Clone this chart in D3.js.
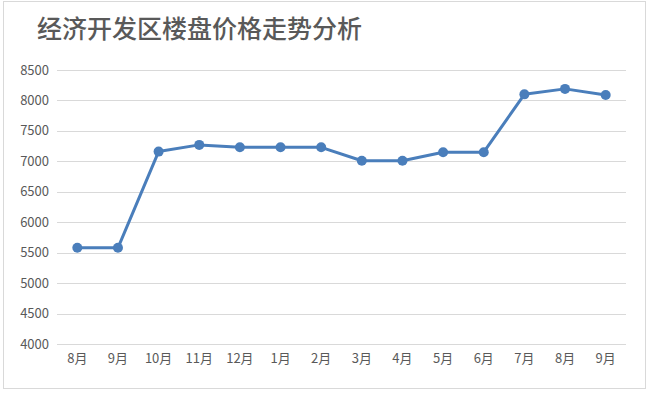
<!DOCTYPE html>
<html>
<head>
<meta charset="utf-8">
<script src="https://cdn.jsdelivr.net/npm/d3@7"></script>
<style>
  body { margin: 0; background: #fff; }
  text { font-family: "Noto Sans CJK SC", "Noto Sans", sans-serif; }
</style>
</head>
<body>
<script>
// data
var months = ["8月", "9月", "10月", "11月", "12月", "1月", "2月", "3月", "4月", "5月", "6月", "7月", "8月", "9月"];
var prices = [5580, 5580, 7160, 7270, 7230, 7230, 7230, 7010, 7010, 7150, 7150, 8100, 8190, 8090];
var yTicks = [4000, 4500, 5000, 5500, 6000, 6500, 7000, 7500, 8000, 8500];

var width = 650, height = 395;
var margin = {top: 70, right: 24, bottom: 51, left: 57};

var svg = d3.select("body").append("svg")
    .attr("width", width)
    .attr("height", height);

// outer frame
svg.append("rect")
    .attr("x", 3.5).attr("y", 1.5)
    .attr("width", 642).attr("height", 387)
    .attr("fill", "#fff")
    .attr("stroke", "#d9d9d9");

// title
svg.append("text")
    .attr("x", 37).attr("y", 38)
    .attr("font-size", 25)
    .attr("font-weight", 500)
    .attr("fill", "#595959")
    .text("经济开发区楼盘价格走势分析");

// scales
var x = d3.scaleBand()
    .domain(d3.range(months.length))
    .range([margin.left, width - margin.right]);

var y = d3.scaleLinear()
    .domain([4000, 8500])
    .range([height - margin.bottom, margin.top]);

// gridlines
svg.append("g")
    .selectAll("line")
    .data(yTicks)
  .enter().append("line")
    .attr("x1", margin.left)
    .attr("x2", width - margin.right)
    .attr("y1", function(d) { return Math.round(y(d)) + 0.5; })
    .attr("y2", function(d) { return Math.round(y(d)) + 0.5; })
    .attr("stroke", "#d9d9d9")
    .attr("stroke-width", 1);

// y labels
svg.append("g")
    .selectAll("text")
    .data(yTicks)
  .enter().append("text")
    .attr("x", 49)
    .attr("y", function(d) { return y(d); })
    .attr("dy", "0.35em")
    .attr("text-anchor", "end")
    .attr("font-size", 13)
    .attr("fill", "#595959")
    .text(function(d) { return d; });

// x labels
svg.append("g")
    .selectAll("text")
    .data(months)
  .enter().append("text")
    .attr("x", function(d, i) { return x(i) + x.bandwidth() / 2; })
    .attr("y", 358)
    .attr("dy", "0.35em")
    .attr("text-anchor", "middle")
    .attr("font-size", 13)
    .attr("fill", "#595959")
    .text(function(d) { return d; });

// the line
var line = d3.line()
    .x(function(d, i) { return x(i) + x.bandwidth() / 2; })
    .y(function(d) { return y(d); });

svg.append("path")
    .datum(prices)
    .attr("d", line)
    .attr("fill", "none")
    .attr("stroke", "#4a7ebb")
    .attr("stroke-width", 3)
    .attr("stroke-linejoin", "round");

// markers
svg.append("g")
    .selectAll("circle")
    .data(prices)
  .enter().append("circle")
    .attr("cx", function(d, i) { return x(i) + x.bandwidth() / 2; })
    .attr("cy", function(d) { return y(d); })
    .attr("r", 5)
    .attr("fill", "#4a7ebb");
</script>
</body>
</html>
